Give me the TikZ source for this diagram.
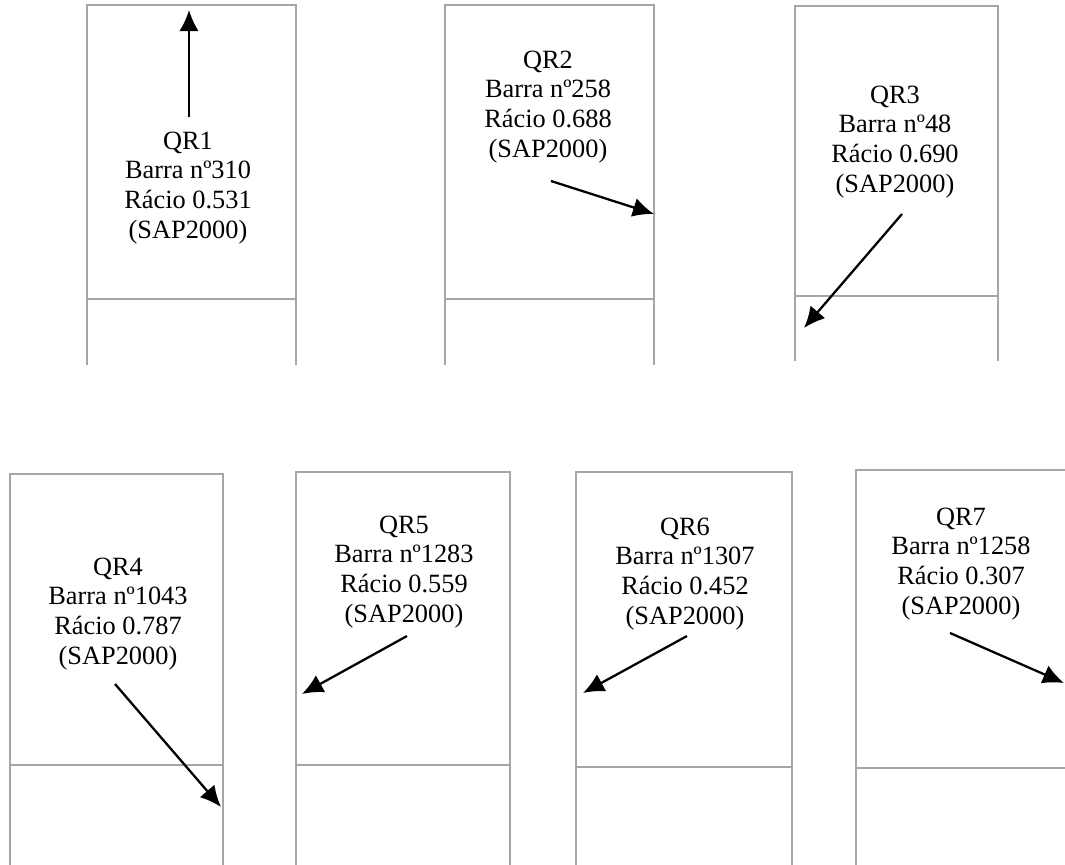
\documentclass[tikz,border=0pt]{standalone}
\usepackage{fontspec}
\setmainfont{Liberation Serif}
\usetikzlibrary{arrows.meta}

\begin{document}
\begin{tikzpicture}[
    x=0.02cm, y=-0.02cm,
    frame/.style={draw=gray!70, line width=1.5pt},
    qrlabel/.style={align=center, inner sep=0pt, font=\fontsize{15}{17}\selectfont},
    arrow/.style={-{Latex[length=12pt, width=11pt]}, line width=1.3pt}
]
\useasboundingbox (0,0) rectangle (1065,865);
\clip (0,0) rectangle (1065,865);

% Top row of frames
\draw[frame] (87,365) -- (87,5) -- (296,5) -- (296,365);
\draw[frame] (87,299) -- (296,299);
\draw[frame] (445,365) -- (445,5) -- (654,5) -- (654,365);
\draw[frame] (445,299) -- (654,299);
\draw[frame] (795,361) -- (795,6) -- (998,6) -- (998,361);
\draw[frame] (795,296) -- (998,296);

% Bottom row of frames (last one cut by the edge)
\draw[frame] (10,870) -- (10,474) -- (223,474) -- (223,870);
\draw[frame] (10,765) -- (223,765);
\draw[frame] (296,870) -- (296,472) -- (510,472) -- (510,870);
\draw[frame] (296,765) -- (510,765);
\draw[frame] (576,870) -- (576,472) -- (792,472) -- (792,870);
\draw[frame] (576,767) -- (792,767);
\draw[frame] (856,870) -- (856,470) -- (1070,470);
\draw[frame] (856,768) -- (1070,768);

% Labels
\node[qrlabel] (qr1) at (188,188) {QR1\\Barra nº310\\Rácio 0.531\\(SAP2000)};
\node[qrlabel] (qr2) at (548,107) {QR2\\Barra nº258\\Rácio 0.688\\(SAP2000)};
\node[qrlabel] (qr3) at (895,142) {QR3\\Barra nº48\\Rácio 0.690\\(SAP2000)};
\node[qrlabel] (qr4) at (118,614) {QR4\\Barra nº1043\\Rácio 0.787\\(SAP2000)};
\node[qrlabel] (qr5) at (404,572) {QR5\\Barra nº1283\\Rácio 0.559\\(SAP2000)};
\node[qrlabel] (qr6) at (685,574) {QR6\\Barra nº1307\\Rácio 0.452\\(SAP2000)};
\node[qrlabel] (qr7) at (961,564) {QR7\\Barra nº1258\\Rácio 0.307\\(SAP2000)};

% Arrow ends
\coordinate (qr1tail) at (189,117);
\coordinate (qr1tip) at (189,10);
\coordinate (qr2tail) at (551,181);
\coordinate (qr2tip) at (654,214);
\coordinate (qr3tail) at (902,214);
\coordinate (qr3tip) at (804,328);
\coordinate (qr4tail) at (115,684);
\coordinate (qr4tip) at (221,807);
\coordinate (qr5tail) at (407,636);
\coordinate (qr5tip) at (302,694);
\coordinate (qr6tail) at (687,636);
\coordinate (qr6tip) at (583,693);
\coordinate (qr7tail) at (950,633);
\coordinate (qr7tip) at (1064,683);

% Arrows
\draw[arrow] (qr1tail) -- (qr1tip);
\draw[arrow] (qr2tail) -- (qr2tip);
\draw[arrow] (qr3tail) -- (qr3tip);
\draw[arrow] (qr4tail) -- (qr4tip);
\draw[arrow] (qr5tail) -- (qr5tip);
\draw[arrow] (qr6tail) -- (qr6tip);
\draw[arrow] (qr7tail) -- (qr7tip);

\end{tikzpicture}
\end{document}
